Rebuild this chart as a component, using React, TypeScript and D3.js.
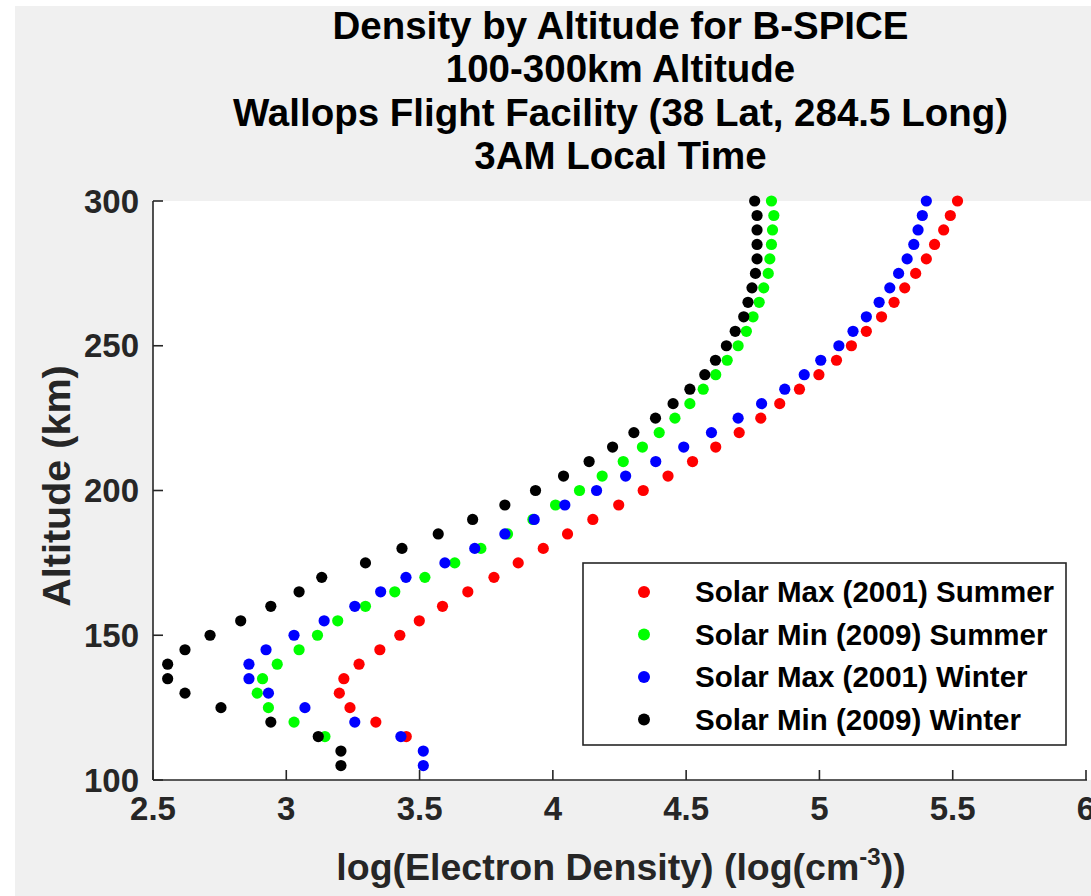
import React from "react";
import * as d3 from "d3";

const altitudes = [105,110,115,120,125,130,135,140,145,150,155,160,165,170,175,180,185,190,195,200,205,210,215,220,225,230,235,240,245,250,255,260,265,270,275,280,285,290,295,300];

// values start at the altitude given in the *Start constants (every 5 km)
const redStart = 115;
const redValues = [3.45,3.336,3.239,3.199,3.216,3.273,3.351,3.426,3.499,3.586,3.681,3.779,3.87,3.964,4.055,4.15,4.247,4.339,4.432,4.524,4.611,4.699,4.78,4.851,4.925,4.998,5.064,5.12,5.176,5.233,5.28,5.32,5.361,5.401,5.432,5.466,5.491,5.518];
const greenStart = 115;
const greenValues = [3.145,3.029,2.933,2.891,2.911,2.966,3.048,3.117,3.193,3.297,3.407,3.52,3.632,3.73,3.83,3.925,4.01,4.1,4.185,4.264,4.336,4.399,4.458,4.514,4.564,4.611,4.654,4.695,4.726,4.751,4.774,4.791,4.808,4.814,4.82,4.824,4.829,4.82];
const blueStart = 105;
const blueValues = [3.514,3.514,3.43,3.257,3.07,2.933,2.86,2.86,2.924,3.029,3.142,3.257,3.354,3.449,3.595,3.707,3.82,3.93,4.045,4.164,4.273,4.386,4.491,4.595,4.695,4.783,4.87,4.943,5.005,5.073,5.126,5.176,5.224,5.264,5.297,5.329,5.354,5.37,5.386,5.401];
const blackStart = 105;
const blackValues = [3.205,3.205,3.12,2.942,2.755,2.62,2.555,2.555,2.62,2.714,2.829,2.942,3.048,3.133,3.297,3.434,3.57,3.699,3.82,3.935,4.04,4.136,4.224,4.304,4.385,4.451,4.514,4.57,4.61,4.651,4.684,4.716,4.732,4.747,4.76,4.766,4.766,4.766,4.766,4.757];

const seriesNames = ["Solar Max (2001) Summer","Solar Min (2009) Summer","Solar Max (2001) Winter","Solar Min (2009) Winter"];
const seriesColors = ["#ff0000","#00ff00","#0000ff","#000000"];
const seriesData = [
  { start: redStart, values: redValues },
  { start: greenStart, values: greenValues },
  { start: blueStart, values: blueValues },
  { start: blackStart, values: blackValues },
];

const xTicks = [2.5,3,3.5,4,4.5,5,5.5,6];
const yTicks = [100,150,200,250,300];
const titleLines = ["Density by Altitude for B-SPICE","100-300km Altitude","Wallops Flight Facility (38 Lat, 284.5 Long)","3AM Local Time"];

const W = 1091, H = 896;
const left = 153, right = 1086, top = 201, bottom = 780;
const FONT = "'Liberation Sans', Arial, Helvetica, sans-serif";
const AX = "#262626";

export default function App() {
  const x = d3.scaleLinear().domain([2.5, 6]).range([left, right]);
  const y = d3.scaleLinear().domain([100, 300]).range([bottom, top]);
  const legendX = 583, legendY = 563, legendW = 483, legendH = 182;
  const rowY = (i: number) => 592 + i * 42.5;

  return (
    <svg width={W} height={H} style={{ position: "absolute", left: 0, top: 0 }} fontFamily={FONT}>
      <rect x={0} y={0} width={W} height={H} fill="#ffffff" />
      <rect x={15} y={6} width={W - 15} height={H - 6} fill="#f0f0f0" />
      <rect x={left} y={top} width={W - left} height={bottom - top} fill="#ffffff" />

      {titleLines.map((t, i) => (
        <text key={t} x={620.5} y={39 + i * 43.3} textAnchor="middle" fontSize={38.5} fontWeight="bold" fill="#000">{t}</text>
      ))}

      {seriesData.map((s, si) => (
        <g key={si} fill={seriesColors[si]}>
          {s.values.map((v, i) => {
            const alt = altitudes[altitudes.indexOf(s.start) + i];
            return <circle key={i} cx={x(v)} cy={y(alt)} r={5.6} />;
          })}
        </g>
      ))}

      <g stroke={AX} strokeWidth={1.6} fill="none">
        <line x1={left} y1={top} x2={left} y2={bottom} />
        <line x1={left} y1={bottom} x2={right + 1} y2={bottom} />
        {yTicks.map((t) => (
          <line key={t} x1={left} x2={left + 10} y1={y(t)} y2={y(t)} />
        ))}
        {xTicks.map((t) => (
          <line key={t} x1={x(t)} x2={x(t)} y1={bottom} y2={bottom - 10} />
        ))}
      </g>

      {yTicks.map((t) => (
        <text key={t} x={139} y={y(t)} dy="0.35em" textAnchor="end" fontSize={33} fontWeight="bold" fill={AX}>{t}</text>
      ))}
      {xTicks.map((t) => (
        <text key={t} x={x(t)} y={820} textAnchor="middle" fontSize={33} fontWeight="bold" fill={AX}>{t}</text>
      ))}

      <text x={621} y={880} textAnchor="middle" fontSize={37.5} fontWeight="bold" fill={AX}>
        log(Electron Density) (log(cm<tspan dy={-15} fontSize={24}>-3</tspan><tspan dy={15}>))</tspan>
      </text>
      <text transform={`translate(70,486) rotate(-90)`} textAnchor="middle" fontSize={39.5} fontWeight="bold" fill={AX}>Altitude (km)</text>

      <rect x={legendX} y={legendY} width={legendW} height={legendH} fill="#ffffff" stroke={AX} strokeWidth={1.6} />
      {seriesNames.map((n, i) => (
        <g key={n}>
          <circle cx={644} cy={rowY(i)} r={6} fill={seriesColors[i]} />
          <text x={695} y={rowY(i) + 10} fontSize={29.5} fontWeight="bold" fill="#000">{n}</text>
        </g>
      ))}
    </svg>
  );
}
